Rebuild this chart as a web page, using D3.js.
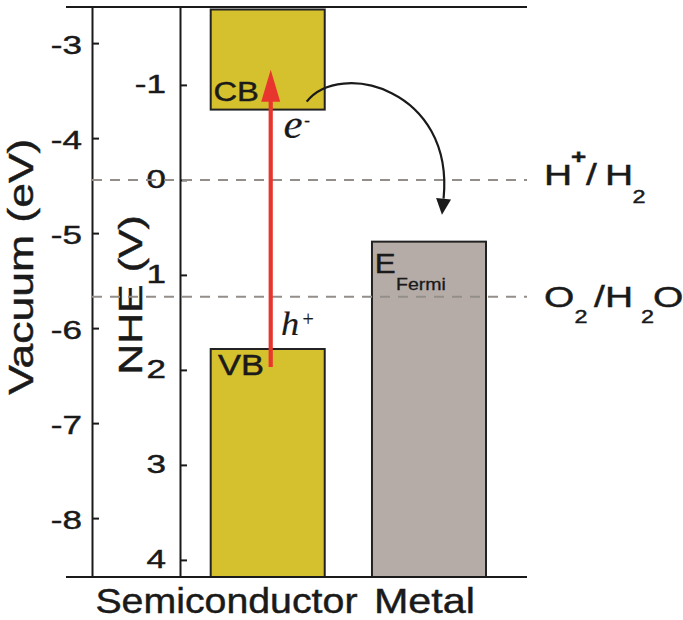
<!DOCTYPE html>
<html>
<head>
<meta charset="utf-8">
<script src="https://cdn.jsdelivr.net/npm/d3@7"></script>
<style>
  html, body { margin: 0; padding: 0; background: #fff; }
  svg { display: block; font-family: "Liberation Sans", Arial, Helvetica, sans-serif; }
</style>
</head>
<body>
<svg id="chart" width="683" height="620"></svg>
<script>
// ---- data -------------------------------------------------------------
const materials = ["Semiconductor", "Metal"];
const vacuumTicks = [-3, -4, -5, -6, -7, -8];      // eV
const nheTicks = [-1, 0, 1, 2, 3, 4];              // V vs NHE
const nheExtent = [-1.82, 4.18];                   // visible NHE window, top to bottom
const vacuumAtNheZero = -4.44;                     // eV of the NHE reference
const conductionBand = -0.74;                      // CB edge, V vs NHE
const valenceBand = 1.78;                          // VB edge, V vs NHE
const fermiLevel = 0.65;                           // metal Fermi level, V vs NHE
const redoxPotentials = [0, 1.23];                 // H+/H2, O2/H2O
const excitation = [1.97, -1.16];                  // photo-excitation VB -> CB

// ---- layout -----------------------------------------------------------
const frameTop = 7, frameBottom = 577;
const frameLeft = 66, frameRight = 527;
const vacAxisX = 92, nheAxisX = 180;
const ink = "#1a1a1a";
const fills = { Semiconductor: "#d5c02d", Metal: "#b5aca7" };

const svg = d3.select("#chart");

const yN = d3.scaleLinear().domain(nheExtent).range([frameTop, frameBottom]);
const yV = d3.scaleLinear()
  .domain(nheExtent.map(v => vacuumAtNheZero - v))
  .range([frameTop, frameBottom]);
const x = d3.scaleBand().domain(materials)
  .range([210.7, 486]).paddingInner(0.293).paddingOuter(0);
const bw = x.bandwidth();

// stretched text helper: each piece placed at (px, py), widened by sx
function label(parent, px, py, str, opt) {
  const o = Object.assign({ size: 30, sx: 1, anchor: "start", family: null,
                            style: "normal", weight: "normal", rotate: 0, halo: 0.45 }, opt);
  const g = parent.append("g")
    .attr("transform", `translate(${px},${py})` + (o.rotate ? ` rotate(${o.rotate})` : "") + ` scale(${o.sx},1)`);
  const t = g.append("text")
    .attr("text-anchor", o.anchor)
    .attr("font-size", o.size)
    .attr("font-style", o.style)
    .attr("font-weight", o.weight)
    .attr("fill", ink)
    .attr("stroke", ink)
    .attr("stroke-width", o.halo)
    .text(str);
  if (o.family) t.attr("font-family", o.family);
  return g;
}

// ---- energy blocks ----------------------------------------------------
const blocks = [
  { m: "Semiconductor", from: nheExtent[0], to: conductionBand },
  { m: "Semiconductor", from: valenceBand, to: nheExtent[1] },
  { m: "Metal", from: fermiLevel, to: nheExtent[1] }
];
const blockTop = d => d.from === nheExtent[0] ? yN(d.from) + 2.5 : yN(d.from);
svg.append("g").selectAll("rect").data(blocks).join("rect")
  .attr("x", d => x(d.m))
  .attr("width", bw)
  .attr("y", blockTop)
  .attr("height", d => yN(d.to) - blockTop(d))
  .attr("fill", d => fills[d.m])
  .attr("stroke", "#222")
  .attr("stroke-width", 2);

// ---- frame lines ------------------------------------------------------
svg.append("g").selectAll("line").data([frameTop, frameBottom]).join("line")
  .attr("x1", frameLeft).attr("x2", frameRight)
  .attr("y1", d => d).attr("y2", d => d)
  .attr("stroke", ink).attr("stroke-width", 2);

// ---- axes -------------------------------------------------------------
function styleAxis(g, pad, sx, dy) {
  g.select(".domain").attr("stroke", ink).attr("stroke-width", 2);
  g.selectAll(".tick line").attr("stroke", ink).attr("stroke-width", 2);
  g.selectAll(".tick text")
    .attr("x", 0).attr("dy", dy)
    .attr("transform", `translate(${-pad},0) scale(${sx},1)`)
    .attr("font-size", 25)
    .attr("font-family", "Liberation Sans, Arial, sans-serif")
    .attr("fill", ink)
    .attr("stroke", ink)
    .attr("stroke-width", 0.45);
}

const axV = svg.append("g").attr("transform", `translate(${vacAxisX},0)`)
  .call(d3.axisLeft(yV).tickValues(vacuumTicks).tickSizeInner(-7).tickSizeOuter(0)
        .tickFormat(d => String(d)));
styleAxis(axV, 10, 1.4, "0.42em");

const axN = svg.append("g").attr("transform", `translate(${nheAxisX},0)`)
  .call(d3.axisLeft(yN).tickValues(nheTicks).tickSizeInner(-7).tickSizeOuter(0)
        .tickFormat(d => String(d)));
styleAxis(axN, 14, 1.4, "0.29em");

label(svg, 33, 266.7, "Vacuum (eV)", { size: 35, sx: 1.27, anchor: "middle", rotate: -90 });
label(svg, 141.7, 295, "NHE (V)", { size: 33, sx: 1.3, anchor: "middle", rotate: -90 });

// ---- redox levels -----------------------------------------------------
svg.append("g").selectAll("line").data(redoxPotentials).join("line")
  .attr("x1", vacAxisX).attr("x2", frameRight)
  .attr("y1", d => yN(d)).attr("y2", d => yN(d))
  .attr("stroke", "#948e8a").attr("stroke-width", 2)
  .attr("stroke-dasharray", "10,8");

const redoxLabels = [
  [ { t: "H", dx: 0, dy: 0, size: 30 },
    { t: "+", dx: 27, dy: -21, size: 20, weight: "bold" },
    { t: "/", dx: 42, dy: 0, size: 30 },
    { t: "H", dx: 61, dy: 0, size: 30 },
    { t: "2", dx: 88.5, dy: 18, size: 18 } ],
  [ { t: "O", dx: 0, dy: 0, size: 30 },
    { t: "2", dx: 30.5, dy: 16, size: 18 },
    { t: "/", dx: 50, dy: 0, size: 30 },
    { t: "H", dx: 61, dy: 0, size: 30 },
    { t: "2", dx: 97, dy: 16, size: 18 },
    { t: "O", dx: 109, dy: 0, size: 30 } ]
];
const redoxBaseline = [5, 10];
redoxPotentials.forEach((p, i) => {
  const x0 = frameRight + 17, y0 = yN(p) + redoxBaseline[i];
  redoxLabels[i].forEach(s => label(svg, x0 + s.dx, y0 + s.dy, s.t,
    { size: s.size, sx: 1.3, weight: s.weight || "normal" }));
});

// ---- excitation arrow (red) -------------------------------------------
const ax = x("Semiconductor") + bw / 2 + 3;
const tipY = yN(excitation[1]), headLen = 32, headHalf = 9.5;
svg.append("line")
  .attr("x1", ax).attr("x2", ax)
  .attr("y1", yN(excitation[0])).attr("y2", tipY + headLen - 1)
  .attr("stroke", "#e8362f").attr("stroke-width", 4.2);
svg.append("path")
  .attr("d", `M${ax},${tipY} L${ax + headHalf},${tipY + headLen} L${ax - headHalf},${tipY + headLen} Z`)
  .attr("fill", "#e8362f");

// ---- electron transfer arrow (black) ----------------------------------
const p0 = [x("Semiconductor") + bw - 18, yN(conductionBand) - 8];
const tip = [x("Metal") + 70, yN(fermiLevel) - 27];
const dir = [-0.1, 1];
const dn = Math.hypot(dir[0], dir[1]);
const u = [dir[0] / dn, dir[1] / dn];
const aLen = 16, aHalf = 7.5;
const p3 = [tip[0] - u[0] * aLen, tip[1] - u[1] * aLen];
const c1 = [p0[0] + 33, p0[1] - 42];
const c2 = [p3[0] + 11, p3[1] - 110];
const curve = d3.path();
curve.moveTo(p0[0], p0[1]);
curve.bezierCurveTo(c1[0], c1[1], c2[0], c2[1], p3[0], p3[1]);
svg.append("path").attr("d", curve.toString())
  .attr("fill", "none").attr("stroke", ink).attr("stroke-width", 2.2);
svg.append("path")
  .attr("d", `M${tip[0]},${tip[1]} L${p3[0] - u[1] * aHalf},${p3[1] + u[0] * aHalf} L${p3[0] + u[1] * aHalf},${p3[1] - u[0] * aHalf} Z`)
  .attr("fill", ink);

// ---- band labels ------------------------------------------------------
const serif = "Liberation Serif, Times New Roman, serif";
label(svg, x("Semiconductor") + 2.7, yN(conductionBand) - 8.3, "CB", { size: 28, sx: 1.17 });
label(svg, x("Semiconductor") + 7.3, yN(valenceBand) + 26, "VB", { size: 30, sx: 1.15 });
label(svg, x("Metal") + 2.8, yN(fermiLevel) + 31.6, "E", { size: 28, sx: 1.12 });
label(svg, x("Metal") + 24, yN(fermiLevel) + 48.3, "Fermi", { size: 16, sx: 1.22, halo: 0.3 });

label(svg, 283.5, 138, "e", { size: 43, style: "italic", family: serif, halo: 0.2 });
label(svg, 304.3, 125.5, "-", { size: 17, family: serif, halo: 0.3 });
label(svg, 281, 335, "h", { size: 33, style: "italic", family: serif, sx: 1.1, halo: 0.2 });
label(svg, 302.5, 326, "+", { size: 20, family: serif, halo: 0.2 });

// ---- material labels --------------------------------------------------
label(svg, x("Metal") - 14.5, 613, "Semiconductor", { size: 35, sx: 1.123, anchor: "end" });
label(svg, x("Metal") + 2, 613, "Metal", { size: 35, sx: 1.18 });
</script>
</body>
</html>
